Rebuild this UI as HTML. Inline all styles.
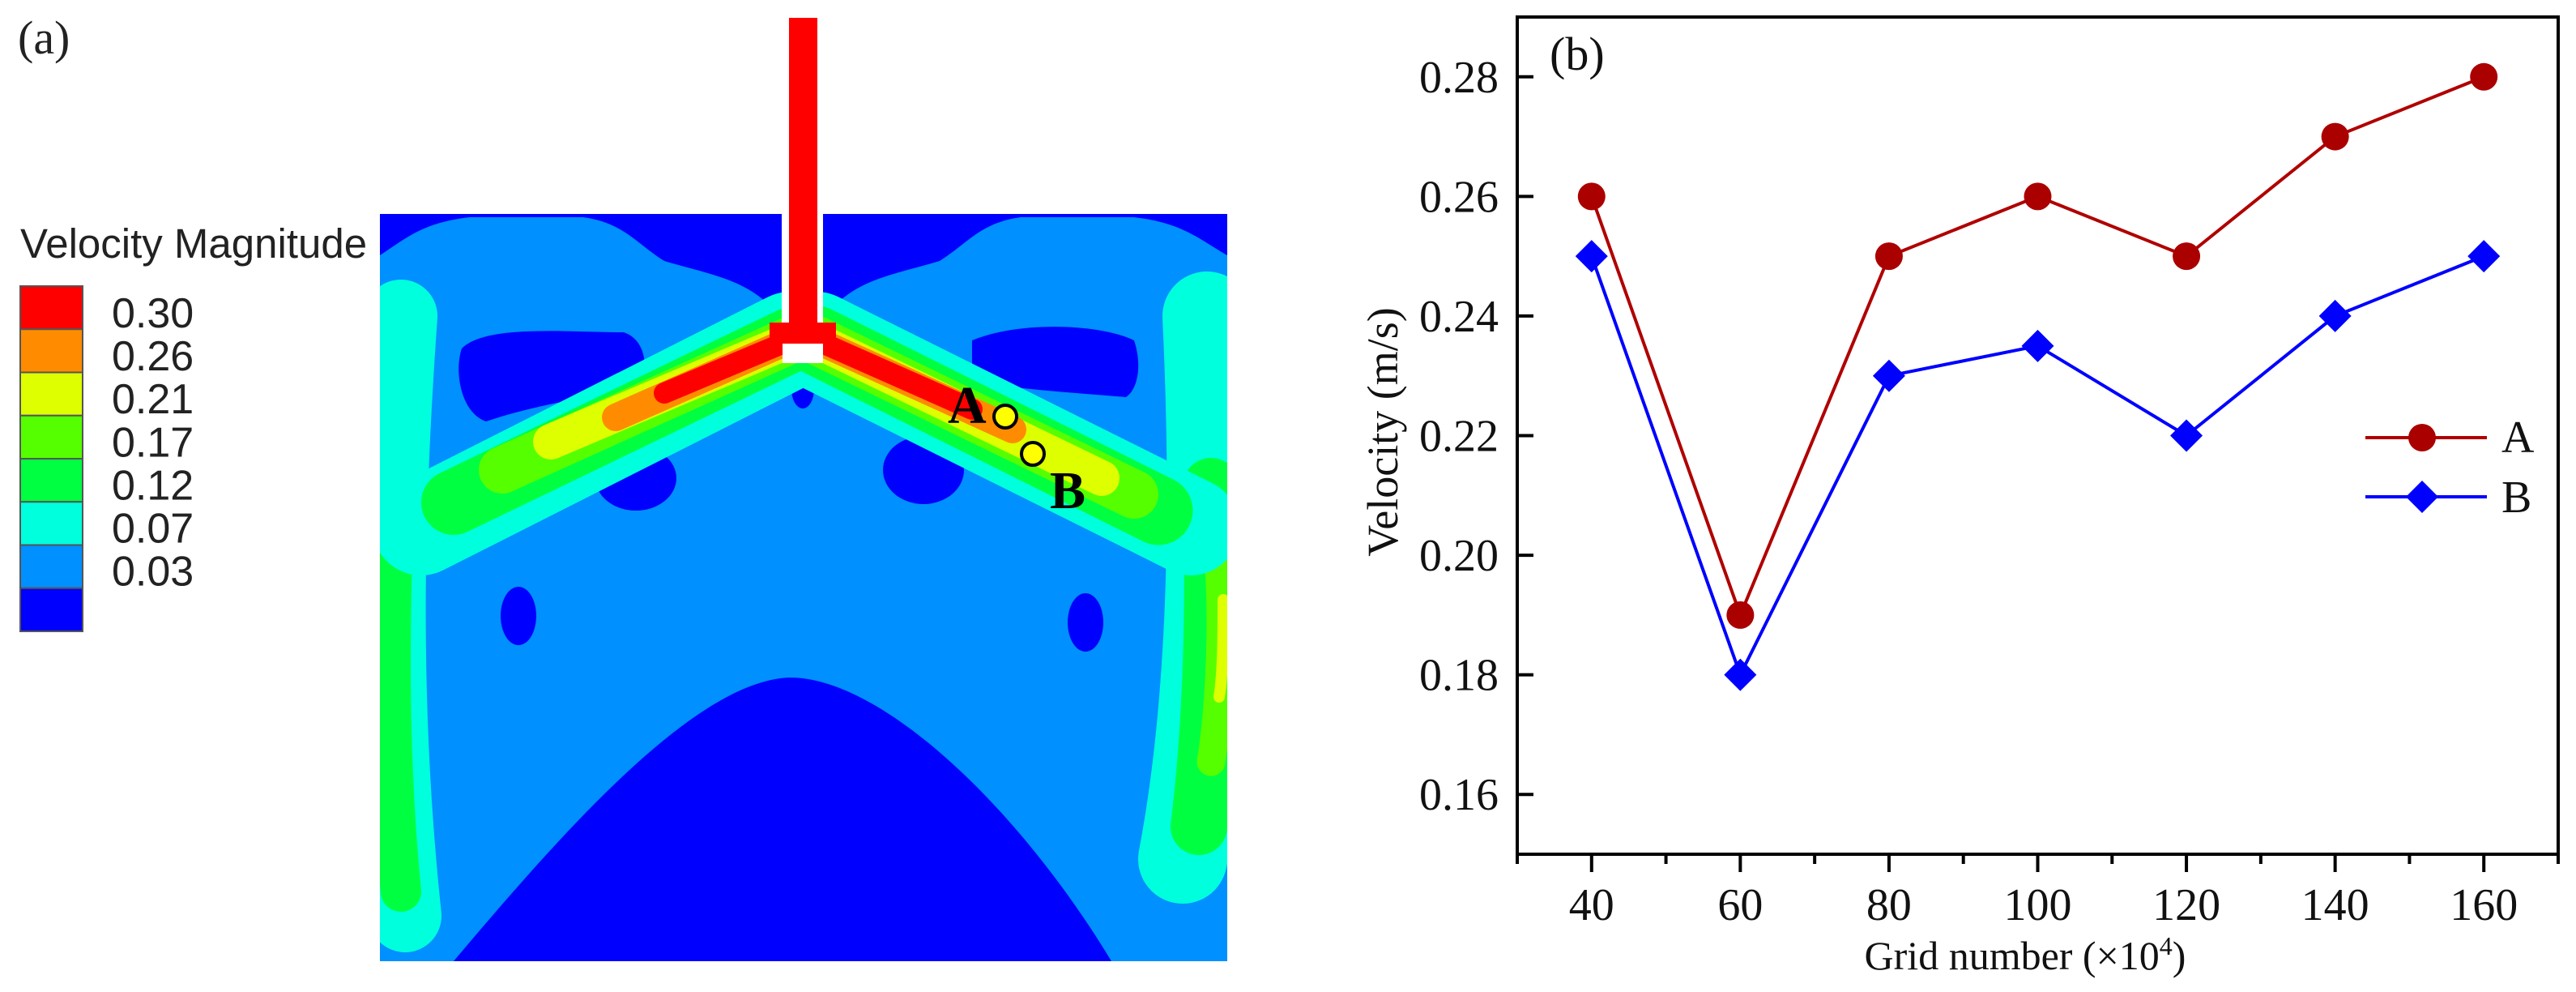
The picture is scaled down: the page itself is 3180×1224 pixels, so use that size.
<!DOCTYPE html>
<html><head><meta charset="utf-8"><style>
html,body{margin:0;padding:0;background:#fff}
svg{display:block}
</style></head><body>
<svg id="root" width="3180" height="1224" viewBox="0 0 3180 1224" xmlns="http://www.w3.org/2000/svg">
<g>
<text x="22" y="66" font-family="Liberation Serif, serif" font-size="58" fill="#222">(a)</text>
<text x="25" y="318" font-family="Liberation Sans, sans-serif" font-size="51" fill="#222">Velocity Magnitude</text>
<g id="cbar"></g>
<defs><clipPath id="boxclip"><rect x="469" y="264" width="1046" height="922"/></clipPath></defs>
<g>
<rect x="469" y="264" width="1046" height="922" fill="#0090ff"/>
<g clip-path="url(#boxclip)">
<path d="M469,247 L965,247 L965,395 C930,345 880,340 820,322 C785,300 770,275 720,268 L580,268 C520,275 500,295 469,315 Z" fill="#0000ff"/>
<path d="M1515,247 L1016,247 L1016,395 C1050,345 1100,340 1160,322 C1195,300 1210,275 1260,268 L1400,268 C1460,275 1480,295 1515,315 Z" fill="#0000ff"/>
<path d="M560,1186 C700,1020 860,840 975,836 C1090,836 1260,1000 1372,1186 Z" fill="#0000ff"/>
<path d="M570,430 C600,400 700,410 770,410 C800,420 800,460 790,480 C720,490 660,500 600,520 C570,510 560,460 570,430 Z" fill="#0000ff"/>
<path d="M1200,420 C1260,395 1360,400 1400,420 C1410,450 1405,480 1390,490 C1330,485 1250,480 1200,470 Z" fill="#0000ff"/>
<ellipse cx="785" cy="590" rx="50" ry="40" fill="#0000ff"/>
<ellipse cx="1140" cy="580" rx="50" ry="42" fill="#0000ff"/>
<ellipse cx="640" cy="760" rx="22" ry="36" fill="#0000ff"/>
<ellipse cx="1340" cy="768" rx="22" ry="36" fill="#0000ff"/>
<ellipse cx="991" cy="480" rx="14" ry="24" fill="#0000ff"/>
<g fill="none" stroke-linecap="round">
<path d="M495,390 C480,600 470,850 500,1130" stroke="#00ffdd" stroke-width="90"/>
<path d="M1490,390 C1500,600 1500,850 1460,1060" stroke="#00ffdd" stroke-width="110"/>
<path d="M485,650 C480,800 480,950 495,1100" stroke="#00ff40" stroke-width="50"/>
<path d="M1495,600 C1500,750 1495,900 1480,1020" stroke="#00ff40" stroke-width="70"/>
<path d="M1505,700 C1510,780 1505,880 1495,940" stroke="#55ff00" stroke-width="35"/>
<path d="M1510,740 C1510,780 1510,830 1505,860" stroke="#ddff00" stroke-width="14"/>
</g>
<g fill="none" stroke-linecap="round">
<path d="M975,420 L520,650" stroke="#00ffdd" stroke-width="120"/>
<path d="M1008,420 L1470,650" stroke="#00ffdd" stroke-width="120"/>
<path d="M975,420 L560,620" stroke="#00ff40" stroke-width="80"/>
<path d="M1008,420 L1430,630" stroke="#00ff40" stroke-width="85"/>
<path d="M975,420 L620,580" stroke="#55ff00" stroke-width="58"/>
<path d="M1008,420 L1400,610" stroke="#55ff00" stroke-width="60"/>
<path d="M975,420 L680,545" stroke="#ddff00" stroke-width="44"/>
<path d="M1008,420 L1360,590" stroke="#ddff00" stroke-width="44"/>
<path d="M975,420 L760,515" stroke="#ff8c00" stroke-width="34"/>
<path d="M1008,420 L1250,530" stroke="#ff8c00" stroke-width="34"/>
<path d="M975,420 L820,485" stroke="#ff0000" stroke-width="26"/>
<path d="M1008,420 L1200,505" stroke="#ff0000" stroke-width="26"/>
</g>
<rect x="965" y="264" width="51" height="138" fill="#fff"/>
<rect x="950" y="398" width="82" height="30" fill="#ff0000"/>
<rect x="966" y="424" width="50" height="24" fill="#fff"/>
</g>
<rect x="974" y="22" width="35" height="390" fill="#ff0000"/>
<circle cx="1241" cy="514" r="14" fill="#ffff00" stroke="#000" stroke-width="4"/>
<circle cx="1275" cy="560" r="14" fill="#ffff00" stroke="#000" stroke-width="4"/>
<text x="1170" y="522" font-family="Liberation Serif, serif" font-weight="bold" font-size="66" fill="#000">A</text>
<text x="1296" y="627" font-family="Liberation Serif, serif" font-weight="bold" font-size="66" fill="#000">B</text>
</g>
</g>
<g id="chart"></g>
</svg>
<script>
const cbColors = ['#ff0000','#ff8c00','#ddff00','#55ff00','#00ff40','#00ffdd','#0090ff','#0000ff'];
const cbLabels = ['0.30','0.26','0.21','0.17','0.12','0.07','0.03'];
const categories = [40,60,80,100,120,140,160];
const seriesA = [0.26,0.19,0.25,0.26,0.25,0.27,0.28];
const seriesB = [0.25,0.18,0.23,0.235,0.22,0.24,0.25];
const yTicks = [0.16,0.18,0.20,0.22,0.24,0.26,0.28];
const xTicks = [40,60,80,100,120,140,160];
const xMinor = [30,50,70,90,110,130,150,170];

const NS='http://www.w3.org/2000/svg';
function mk(tag, attrs, parent){const e=document.createElementNS(NS,tag);for(const k in attrs)e.setAttribute(k,attrs[k]);parent.appendChild(e);return e;}

const cb=document.getElementById('cbar');
cbColors.forEach((c,i)=>{
  const r=mk('rect',{x:25,y:353+i*53.25,width:77,height:53.25,fill:c,stroke:'#555','stroke-width':2},cb);
  
  
});
cbLabels.forEach((t,i)=>{
  const tx=mk('text',{x:138,y:404+i*53.1,'font-family':'Liberation Sans, sans-serif','font-size':52,fill:'#222'},cb);
  tx.textContent=t;
  
  
});

const L=1873,R=3158,T=21,B=1054;
const X0=30,X1=170,Y0=0.15,Y1=0.29;
const sx=v=>L+(v-X0)/(X1-X0)*(R-L);
const sy=v=>B-(v-Y0)/(Y1-Y0)*(B-T);
const g=document.getElementById('chart');
const serif='Liberation Serif, serif';

const fr=mk('rect',{x:L,y:T,width:R-L,height:B-T,fill:'none',stroke:'#000','stroke-width':4},g);



yTicks.forEach(v=>{
  const y=sy(v);
  const tk=mk('line',{x1:L,x2:L+20,y1:y,y2:y,stroke:'#000','stroke-width':4},g);
  
  
  const t=mk('text',{x:1850,y:y+19,'text-anchor':'end','font-family':serif,'font-size':56,fill:'#111'},g);
  t.textContent=v.toFixed(2);
  
  
});
xTicks.forEach(v=>{
  const x=sx(v);
  const tk=mk('line',{x1:x,x2:x,y1:B,y2:B+22,stroke:'#000','stroke-width':4},g);
  
  
  const t=mk('text',{x:x,y:1135,'text-anchor':'middle','font-family':serif,'font-size':56,fill:'#111'},g);
  t.textContent=v;
  
  
});
xMinor.forEach(v=>{
  const x=sx(v);
  const tk=mk('line',{x1:x,x2:x,y1:B,y2:B+12,stroke:'#000','stroke-width':4},g);
  
  
});

const xt=mk('text',{x:2500,y:1196,'text-anchor':'middle','font-family':serif,'font-size':50,fill:'#111'},g);
xt.innerHTML='Grid number (×10<tspan baseline-shift="super" font-size="32">4</tspan>)';


const yt=mk('text',{x:0,y:0,'text-anchor':'middle','font-family':serif,'font-size':54,fill:'#111',transform:'translate(1725,533) rotate(-90)'},g);
yt.textContent='Velocity (m/s)';


const pb=mk('text',{x:1913,y:86,'font-family':serif,'font-size':58,fill:'#111'},g);
pb.textContent='(b)';



function diamond(cx,cy,r){return `M${cx},${cy-r} L${cx+r},${cy} L${cx},${cy+r} L${cx-r},${cy} Z`;}

const pa=categories.map((c,i)=>sx(c)+','+sy(seriesA[i])).join(' ');
const la=mk('polyline',{points:pa,fill:'none',stroke:'#b00000','stroke-width':4},g);


const pbp=categories.map((c,i)=>sx(c)+','+sy(seriesB[i])).join(' ');
const lb=mk('polyline',{points:pbp,fill:'none',stroke:'#0000ff','stroke-width':4},g);


categories.forEach((c,i)=>{
  const m=mk('circle',{cx:sx(c),cy:sy(seriesA[i]),r:17,fill:'#aa0000'},g);
  
  
  const d=mk('path',{d:diamond(sx(c),sy(seriesB[i]),20),fill:'#0000ff'},g);
  
  
});

const lg=mk('g',{},g);


const l1=mk('line',{x1:2920,x2:3070,y1:540,y2:540,stroke:'#b00000','stroke-width':4},lg);


const c1=mk('circle',{cx:2990,cy:540,r:17,fill:'#aa0000'},lg);


const t1=mk('text',{x:3088,y:558,'font-family':serif,'font-size':56,fill:'#111'},lg);
t1.textContent='A';


const l2=mk('line',{x1:2920,x2:3070,y1:613,y2:613,stroke:'#0000ff','stroke-width':4},lg);


const d2=mk('path',{d:diamond(2990,613,20),fill:'#0000ff'},lg);


const t2=mk('text',{x:3088,y:632,'font-family':serif,'font-size':56,fill:'#111'},lg);
t2.textContent='B';


</script>
</body></html>
